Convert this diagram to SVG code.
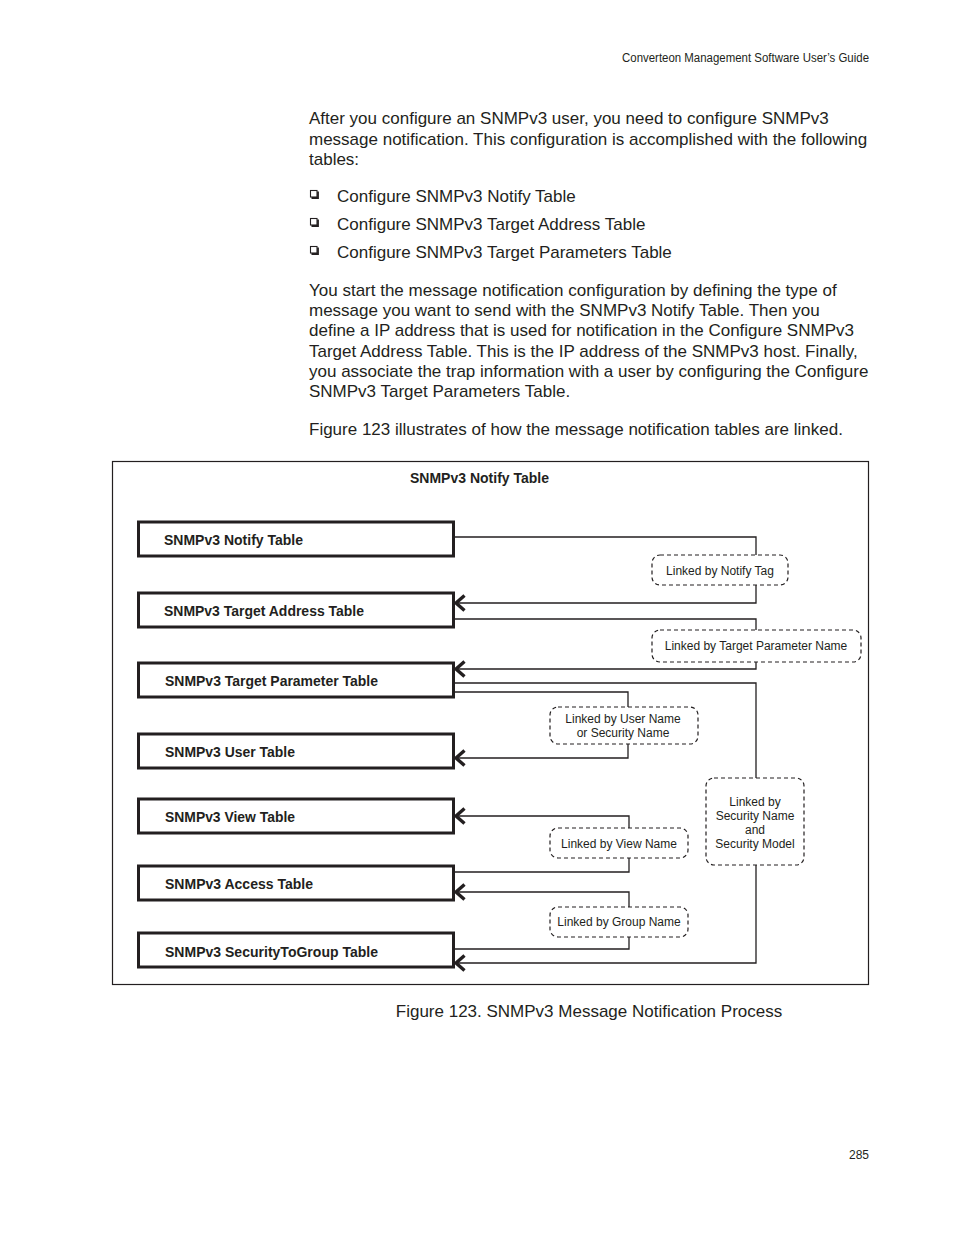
<svg xmlns="http://www.w3.org/2000/svg" width="954" height="1235" viewBox="0 0 954 1235">
<style>
.body{font-family:"Liberation Sans",Arial,sans-serif;font-size:17px;fill:#231f20}
.hdr{font-family:"Liberation Sans",Arial,sans-serif;font-size:12px;fill:#231f20}
.node rect{fill:#fff;stroke:#231f20;stroke-width:3}
.node text{font-family:"Liberation Sans",Arial,sans-serif;font-size:15.5px;font-weight:bold;fill:#231f20}
.lbl rect{fill:#fff;stroke:#231f20;stroke-width:1.2;stroke-dasharray:4 3}
.lbl text{font-family:"Liberation Sans",Arial,sans-serif;font-size:12px;fill:#231f20;text-anchor:middle}
.conn path{fill:none;stroke:#231f20;stroke-width:1.3}
.bul{fill:none;stroke:#231f20;stroke-width:1.1}
</style>
<defs>
<marker id="chev" markerUnits="userSpaceOnUse" viewBox="-12 -10 15 20" markerWidth="15" markerHeight="20" refX="0" refY="0" orient="auto">
<path d="M-8.5 -7.5 L0 0 L-8.5 7.5" fill="none" stroke="#231f20" stroke-width="3.4"/>
</marker>
</defs>
<rect width="954" height="1235" fill="#fff"/>
<text class="hdr" x="622" y="62" textLength="247" lengthAdjust="spacingAndGlyphs">Converteon Management Software User’s Guide</text>
<text class="body" x="309" y="124">After you configure an SNMPv3 user, you need to configure SNMPv3</text>
<text class="body" x="309" y="145">message notification. This configuration is accomplished with the following</text>
<text class="body" x="309" y="165">tables:</text>
<g class="bul">
<rect x="310.5" y="190.5" width="6.5" height="6.5"/><path d="M318 191.5 V198 H311.5" stroke-width="1.8"/>
<rect x="310.5" y="218.5" width="6.5" height="6.5"/><path d="M318 219.5 V226 H311.5" stroke-width="1.8"/>
<rect x="310.5" y="246.5" width="6.5" height="6.5"/><path d="M318 247.5 V254 H311.5" stroke-width="1.8"/>
</g>
<text class="body" x="337" y="202">Configure SNMPv3 Notify Table</text>
<text class="body" x="337" y="230">Configure SNMPv3 Target Address Table</text>
<text class="body" x="337" y="258">Configure SNMPv3 Target Parameters Table</text>
<text class="body" x="309" y="296">You start the message notification configuration by defining the type of</text>
<text class="body" x="309" y="316">message you want to send with the SNMPv3 Notify Table. Then you</text>
<text class="body" x="309" y="336">define a IP address that is used for notification in the Configure SNMPv3</text>
<text class="body" x="309" y="357">Target Address Table. This is the IP address of the SNMPv3 host. Finally,</text>
<text class="body" x="309" y="377">you associate the trap information with a user by configuring the Configure</text>
<text class="body" x="309" y="397">SNMPv3 Target Parameters Table.</text>
<text class="body" x="309" y="435">Figure 123 illustrates of how the message notification tables are linked.</text>

<rect x="112.5" y="461.5" width="756" height="523" fill="none" stroke="#231f20" stroke-width="1.2"/>
<text x="479.5" y="483" text-anchor="middle" font-family="'Liberation Sans',Arial,sans-serif" font-size="15.5" font-weight="bold" fill="#231f20" textLength="139" lengthAdjust="spacingAndGlyphs">SNMPv3 Notify Table</text>

<g class="conn">
<path d="M454 537 H756 V555"/><path d="M756 585 V603 H456" marker-end="url(#chev)"/>
<path d="M454 619 H756 V630"/><path d="M756 662 V669 H456" marker-end="url(#chev)"/>
<path d="M454 683 H756 V778"/><path d="M756 865 V963 H456" marker-end="url(#chev)"/>
<path d="M454 692 H628 V707"/><path d="M628 744 V758 H456" marker-end="url(#chev)"/>
<path d="M454 872 H629 V858"/><path d="M629 828 V816 H456" marker-end="url(#chev)"/>
<path d="M454 949 H629 V937"/><path d="M629 907 V892 H456" marker-end="url(#chev)"/>
</g>

<g id="n-notify" class="node"><rect x="138.5" y="522" width="315" height="34"/><text x="164" y="545" textLength="139" lengthAdjust="spacingAndGlyphs">SNMPv3 Notify Table</text></g>
<g id="n-target" class="node"><rect x="138.5" y="593" width="315" height="34"/><text x="164" y="616" textLength="200" lengthAdjust="spacingAndGlyphs">SNMPv3 Target Address Table</text></g>
<g id="n-param" class="node"><rect x="138.5" y="663" width="315" height="34"/><text x="165" y="686" textLength="213" lengthAdjust="spacingAndGlyphs">SNMPv3 Target Parameter Table</text></g>
<g id="n-user" class="node"><rect x="138.5" y="734" width="315" height="34"/><text x="165" y="757" textLength="130" lengthAdjust="spacingAndGlyphs">SNMPv3 User Table</text></g>
<g id="n-view" class="node"><rect x="138.5" y="799" width="315" height="34"/><text x="165" y="822" textLength="130" lengthAdjust="spacingAndGlyphs">SNMPv3 View Table</text></g>
<g id="n-access" class="node"><rect x="138.5" y="866" width="315" height="34"/><text x="165" y="889" textLength="148" lengthAdjust="spacingAndGlyphs">SNMPv3 Access Table</text></g>
<g id="n-s2g" class="node"><rect x="138.5" y="933" width="315" height="34"/><text x="165" y="957" textLength="213" lengthAdjust="spacingAndGlyphs">SNMPv3 SecurityToGroup Table</text></g>

<g id="l-notifytag" class="lbl"><rect x="652" y="555" width="136" height="30" rx="8"/><text x="720" y="575">Linked by Notify Tag</text></g>
<g id="l-tpname" class="lbl"><rect x="652" y="630" width="209" height="32" rx="8"/><text x="756" y="650">Linked by Target Parameter Name</text></g>
<g id="l-user" class="lbl"><rect x="550" y="707" width="148" height="37" rx="8"/><text x="623" y="723">Linked by User Name</text><text x="623" y="737">or Security Name</text></g>
<g id="l-sec" class="lbl"><rect x="706" y="778" width="98" height="87" rx="8"/><text x="755" y="806">Linked by</text><text x="755" y="820">Security Name</text><text x="755" y="834">and</text><text x="755" y="848">Security Model</text></g>
<g id="l-view" class="lbl"><rect x="550" y="828" width="138" height="30" rx="8"/><text x="619" y="848">Linked by View Name</text></g>
<g id="l-group" class="lbl"><rect x="550" y="907" width="138" height="30" rx="8"/><text x="619" y="926">Linked by Group Name</text></g>

<text class="body" x="589" y="1017" text-anchor="middle">Figure 123. SNMPv3 Message Notification Process</text>
<text class="hdr" x="869" y="1159" text-anchor="end">285</text>
</svg>
